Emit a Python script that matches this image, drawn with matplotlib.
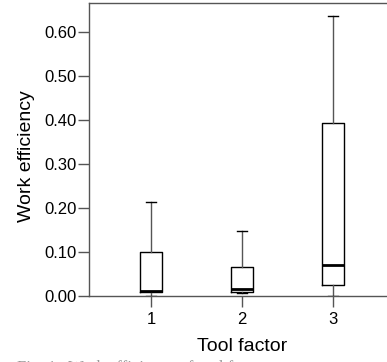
import numpy as np
import matplotlib
matplotlib.use("Agg")
import matplotlib.pyplot as plt

plt.rcParams['font.family'] = ['Liberation Sans', 'DejaVu Sans']

# box statistics
groups = ['1', '2', '3']
whisker_low = [0.000, 0.006, 0.001]
q1 = [0.008, 0.010, 0.024]
median = [0.012, 0.016, 0.070]
q3 = [0.100, 0.066, 0.393]
whisker_high = [0.215, 0.148, 0.637]
yticks = [0.0, 0.1, 0.2, 0.3, 0.4, 0.5, 0.6]

stats = []
for i, g in enumerate(groups):
    stats.append(dict(label=g, whislo=whisker_low[i], q1=q1[i], med=median[i],
                      q3=q3[i], whishi=whisker_high[i], fliers=[]))

fig = plt.figure(figsize=(3.87, 3.62), dpi=100)
ax = fig.add_axes([89 / 387, 66 / 362, 306 / 387, 293 / 362])

grey = '#555555'
ax.bxp(stats, positions=[1, 2, 3], widths=0.25, capwidths=0.11,
       showfliers=False, patch_artist=False,
       boxprops=dict(color='black', linewidth=1.0),
       medianprops=dict(color='black', linewidth=2.0),
       whiskerprops=dict(color=grey, linewidth=1.0),
       capprops=dict(color='black', linewidth=1.0))

ax.set_xlim(0.32, 3.68)
ax.set_ylim(0, 0.667)
ax.set_yticks(yticks)
ax.set_yticklabels(['%.2f' % v for v in yticks])

for s in ['left', 'bottom', 'top']:
    ax.spines[s].set_color(grey)
    ax.spines[s].set_linewidth(1.0)
ax.spines['right'].set_visible(False)
ax.tick_params(axis='both', length=8, width=1.0, color=grey, labelsize=12)
ax.tick_params(axis='y', pad=1)
ax.tick_params(axis='x', pad=3.5)

ax.set_xlabel('Tool factor', fontsize=14, labelpad=8)
ax.set_ylabel('Work efficiency', fontsize=14)
ax.yaxis.set_label_coords(-0.178, 0.476)

# caption, mostly cut off at the bottom edge as in the source
fig.text(17 / 387, 1 - 359.5 / 362, 'Fig. 1   Work efficiency of tool factor',
         fontsize=12, color='#999999', family=['Liberation Serif'],
         ha='left', va='top')

fig.savefig('out.png', dpi=100)
